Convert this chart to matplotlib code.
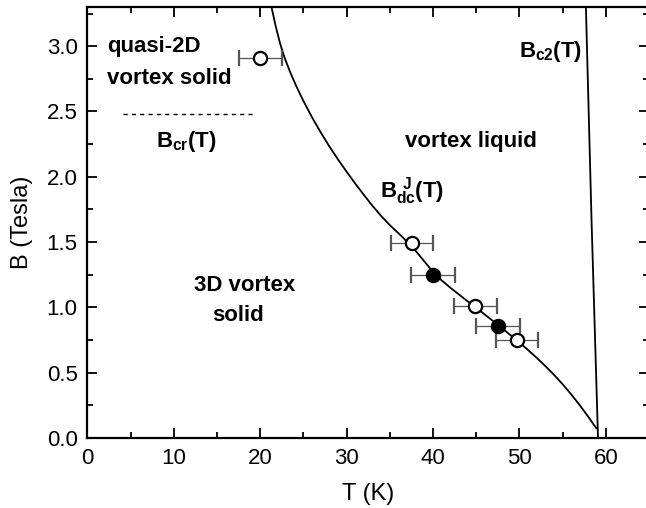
import matplotlib
matplotlib.use('Agg')
import matplotlib.pyplot as plt

plt.rcParams['font.family'] = ['Liberation Sans', 'DejaVu Sans']
plt.rcParams['mathtext.fontset'] = 'custom'
plt.rcParams['mathtext.rm'] = 'Liberation Sans:bold'
plt.rcParams['mathtext.it'] = 'Liberation Sans:bold'
plt.rcParams['mathtext.bf'] = 'Liberation Sans:bold'

# open circles (data points with T error bars)
T_open = [20.0, 37.6, 44.9, 49.7]
B_open = [2.91, 1.49, 1.01, 0.75]
Terr_open = [2.5, 2.45, 2.5, 2.45]

# filled circles
T_fill = [40.0, 47.5]
B_fill = [1.25, 0.86]
Terr_fill = [2.5, 2.55]

# B_dc^J(T) curve
T_dc = [21.3, 21.8, 22.3, 22.8, 23.5, 24.2, 25.0, 26.0, 27.0, 28.0, 29.0,
        30.0, 31.0, 32.0, 33.0, 34.0, 35.0, 36.0, 37.0, 38.0, 39.0, 40.0,
        41.0, 42.0, 43.0, 44.0, 45.0, 46.0, 47.0, 48.0, 49.0, 50.0, 51.0,
        52.0, 53.0, 54.0, 55.0, 56.0, 57.0, 58.0, 58.9]
B_dc = [3.30, 3.15, 3.02, 2.915, 2.795, 2.69, 2.58, 2.455, 2.34, 2.233, 2.133,
        2.039, 1.948, 1.861, 1.777, 1.70, 1.63, 1.568, 1.503, 1.432, 1.352, 1.272,
        1.207, 1.151, 1.099, 1.047, 0.997, 0.945, 0.893, 0.840, 0.786, 0.731, 0.674,
        0.614, 0.551, 0.484, 0.412, 0.334, 0.250, 0.160, 0.075]

# B_c2(T) line
T_c2 = [57.7, 58.35, 59.1]
B_c2 = [3.3, 1.67, 0.0]

# B_cr(T) dashed line
T_cr = [4.1, 19.4]
B_cr = [2.48, 2.48]

fig = plt.figure(figsize=(6.46, 5.08), dpi=100)
ax = fig.add_axes([0.1354, 0.1378, 0.8692, 0.8484])

ax.plot(T_dc, B_dc, color='black', lw=1.3)
ax.plot(T_c2, B_c2, color='black', lw=1.3)
ax.plot(T_cr, B_cr, color='black', lw=1.0, ls=(0, (3, 3)))

ax.errorbar(T_open, B_open, xerr=Terr_open, fmt='o', ms=9.5, mfc='white',
            mec='black', mew=1.6, ecolor='#555555', elinewidth=0.9,
            capsize=6, capthick=0.9, zorder=3)
ax.errorbar(T_fill, B_fill, xerr=Terr_fill, fmt='o', ms=9.5, mfc='black',
            mec='black', mew=1.6, ecolor='#555555', elinewidth=0.9,
            capsize=6, capthick=0.9, zorder=3)

bold = dict(fontsize=16, fontweight='bold')
ax.text(2.3, 3.0, 'quasi-2D', va='center', ha='left', **bold)
ax.text(2.3, 2.75, 'vortex solid', va='center', ha='left', **bold)
ax.text(7.9, 2.27, r'$B_{cr}(T)$', va='center', ha='left', fontsize=16)
ax.text(44.4, 2.27, 'vortex liquid', va='center', ha='center', **bold)
ax.text(57.3, 2.96, r'$B_{c2}(T)$', va='center', ha='right', fontsize=16)
ax.text(33.9, 1.89, r'$B_{dc}^{\ J}(T)$', va='center', ha='left', fontsize=16)
ax.text(18.2, 1.17, '3D vortex', va='center', ha='center', **bold)
ax.text(17.4, 0.94, 'solid', va='center', ha='center', **bold)

ax.set_xlim(0, 65)
ax.set_ylim(0, 3.3)
ax.set_xticks([0, 10, 20, 30, 40, 50, 60])
ax.set_xticks([5, 15, 25, 35, 45, 55, 65], minor=True)
ax.set_yticks([0.0, 0.5, 1.0, 1.5, 2.0, 2.5, 3.0])
ax.set_yticks([0.25, 0.75, 1.25, 1.75, 2.25, 2.75, 3.25], minor=True)
ax.set_yticklabels(['0.0', '0.5', '1.0', '1.5', '2.0', '2.5', '3.0'])
ax.tick_params(which='both', direction='in', top=True, right=True,
               labelsize=16, width=1.3)
ax.tick_params(which='major', length=7, pad=7)
ax.tick_params(which='minor', length=4)
for s in ['left', 'bottom', 'top']:
    ax.spines[s].set_linewidth(1.6)
ax.spines['right'].set_visible(False)

ax.set_xlabel('T (K)', fontsize=17, labelpad=10)
ax.set_ylabel('B (Tesla)', fontsize=17, labelpad=10)

fig.savefig('out.png', dpi=100)
